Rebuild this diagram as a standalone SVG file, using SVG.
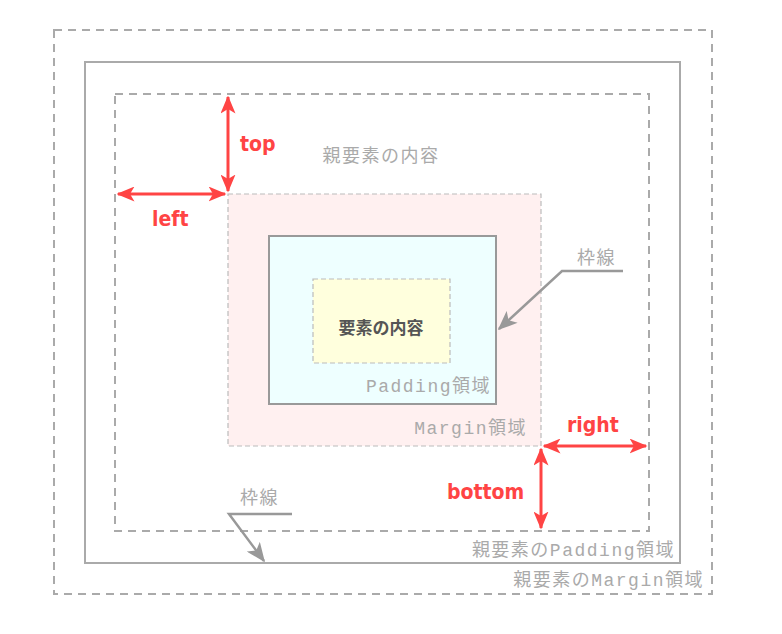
<svg xmlns="http://www.w3.org/2000/svg" width="782" height="634" viewBox="0 0 782 634">
<defs>
<style>
.dash{fill:none;stroke:#aaa;stroke-width:2;stroke-dasharray:8 6}
.lbl{font-family:"Liberation Mono","Noto Sans CJK JP",monospace;fill:#aaa;font-size:18px;letter-spacing:1.5px}
.red{font-family:"DejaVu Sans Condensed","Liberation Sans",sans-serif;font-weight:bold;fill:#ff4444;font-size:21px}
.ra{stroke:#ff4444;stroke-width:3;fill:none}
.ga{stroke:#999;stroke-width:2.5;fill:none}
</style>
<marker id="rh" viewBox="0 0 12 10" refX="11" refY="5" markerWidth="6" markerHeight="5" markerUnits="strokeWidth" orient="auto-start-reverse">
<path d="M0,0 L12,5 L0,10 L3,5 Z" fill="#ff4444"/>
</marker>
<marker id="gh" viewBox="0 0 12 10" refX="11" refY="5" markerWidth="8" markerHeight="6.5" markerUnits="strokeWidth" orient="auto">
<path d="M0,0 L12,5 L0,10 L3,5 Z" fill="#999"/>
</marker>
</defs>
<rect width="782" height="634" fill="#fff"/>
<g id="parent-margin">
<rect class="dash" x="54" y="30" width="658" height="564"/>
<text class="lbl" x="704" y="586" text-anchor="end">親要素のMargin領域</text>
</g>
<g id="parent-border">
<rect x="85" y="62" width="595" height="501" fill="none" stroke="#aaa" stroke-width="2"/>
</g>
<g id="parent-padding">
<rect class="dash" x="115" y="94" width="534" height="437"/>
<text class="lbl" x="675" y="556" text-anchor="end">親要素のPadding領域</text>
<text class="lbl" x="381" y="162" text-anchor="middle">親要素の内容</text>
</g>
<g id="margin">
<rect x="228" y="194" width="313" height="252" fill="#fff0f0" stroke="#bbb" stroke-width="1.2" stroke-dasharray="5 3"/>
<text class="lbl" x="527" y="434" text-anchor="end">Margin領域</text>
</g>
<g id="padding">
<rect x="269" y="236" width="227" height="168" fill="#eeffff" stroke="#999" stroke-width="2"/>
<text class="lbl" x="491" y="392" text-anchor="end">Padding領域</text>
</g>
<g id="content">
<rect x="313" y="279" width="137" height="84" fill="#ffffdd" stroke="#bbb" stroke-width="1.2" stroke-dasharray="5 3"/>
<text x="381" y="334" text-anchor="middle" font-family="'Noto Sans CJK JP',sans-serif" font-weight="bold" font-size="17" fill="#555">要素の内容</text>
</g>
<g id="connectors">
<line class="ra" x1="228" y1="97" x2="228" y2="191" marker-start="url(#rh)" marker-end="url(#rh)"/>
<line class="ra" x1="118" y1="194" x2="225" y2="194" marker-start="url(#rh)" marker-end="url(#rh)"/>
<line class="ra" x1="544" y1="446" x2="646" y2="446" marker-start="url(#rh)" marker-end="url(#rh)"/>
<line class="ra" x1="541" y1="449" x2="541" y2="528" marker-start="url(#rh)" marker-end="url(#rh)"/>
<polyline class="ga" points="623,271 562,271 499,329" marker-end="url(#gh)"/>
<polyline class="ga" points="292,514 229,514 264,561" marker-end="url(#gh)"/>
</g>
<g id="labels">
<text class="red" x="240" y="151">top</text>
<text class="red" x="152" y="226">left</text>
<text class="red" x="567" y="432">right</text>
<text class="red" x="447" y="499">bottom</text>
<text class="lbl" x="577" y="264">枠線</text>
<text class="lbl" x="240" y="504">枠線</text>
</g>
</svg>
